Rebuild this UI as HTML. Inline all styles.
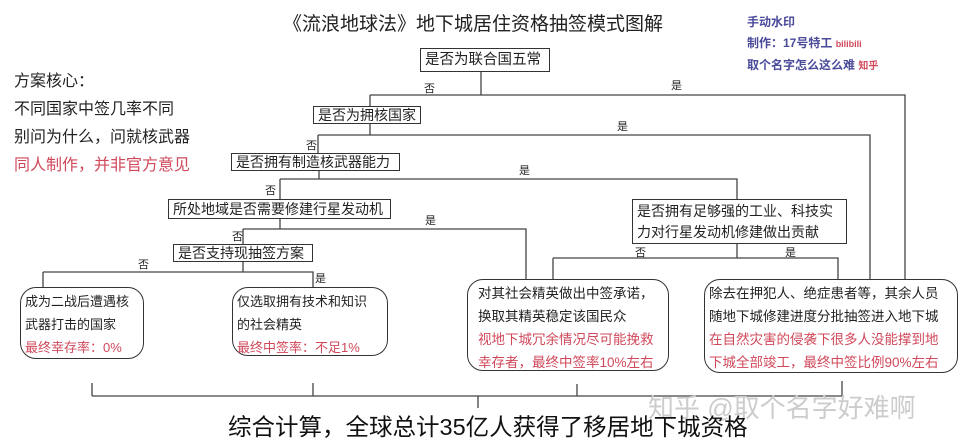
<!DOCTYPE html>
<html><head><meta charset="utf-8"><style>
body{margin:0;width:960px;height:447px;background:#fff;position:relative;overflow:hidden;font-family:"Liberation Sans","Noto Sans CJK SC",sans-serif;color:#222}
.a{position:absolute;white-space:nowrap}
.b{position:absolute;border:1.3px solid #333;background:#fff;font-size:14px;line-height:16px;padding:0 4px;box-sizing:border-box;white-space:nowrap;overflow:hidden}
.r{position:absolute;border:1.3px solid #333;border-radius:16px;background:#fff;box-sizing:border-box;padding:2px 4px;white-space:nowrap}
.red{color:#d0485a}
.l{font-size:11px}
svg{position:absolute;left:0;top:0}
</style></head><body>
<svg width="960" height="447"><g stroke="#444" stroke-width="1.3" fill="none">
<path d="M481 72V95M370 95H905V279M370 95V106"/>
<path d="M370 124V135M318 135H870V279M318 135V154"/>
<path d="M319 170V179M280 179H737V199M280 179V199"/>
<path d="M737 243V258M553 258H838V279M553 258V279"/>
<path d="M280 218V229M243 229H526V279M243 229V244"/>
<path d="M243 262V272M43 272H313V287M43 272V287"/>
<path d="M92 383V396M313 383V396M577 384V396M842 381V396M92 396H842M478 396V408"/>
</g></svg>
<div class="a" style="left:283px;top:9px;font-size:19px">《流浪地球法》地下城居住资格抽签模式图解</div>
<div class="a" style="left:747px;top:12px;font-size:12px;font-weight:bold;color:#4a4a9a;line-height:21px">手动水印<br>制作：17号特工 <span style="color:#d0485a;font-size:9px">bilibili</span><br>取个名字怎么这么难 <span style="color:#d0485a;font-size:10px">知乎</span></div>
<div class="a" style="left:14px;top:68px;font-size:16px;line-height:28px">方案核心：<br>不同国家中签几率不同<br>别问为什么，问就核武器<br><span class="red">同人制作，并非官方意见</span></div>
<div class="b" style="left:420px;top:48px;width:130px;height:24px;font-size:14.5px;line-height:22px">是否为联合国五常</div>
<div class="b" style="left:313px;top:106px;width:108px;height:18px">是否为拥核国家</div>
<div class="b" style="left:231px;top:153px;width:169px;height:18px">是否拥有制造核武器能力</div>
<div class="b" style="left:168px;top:199px;width:223px;height:20px;font-size:14px;line-height:18px">所处地域是否需要修建行星发动机</div>
<div class="b" style="left:173px;top:244px;width:140px;height:18px">是否支持现抽签方案</div>
<div class="b" style="left:632px;top:199px;width:215px;height:45px;font-size:14px;line-height:21px;padding-top:1px">是否拥有足够强的工业、科技实<br>力对行星发动机修建做出贡献</div>
<div class="a l" style="left:424px;top:80px">否</div><div class="a l" style="left:671px;top:77px">是</div>
<div class="a l" style="left:306px;top:137px">否</div><div class="a l" style="left:617px;top:118px">是</div>
<div class="a l" style="left:265px;top:182px">否</div><div class="a l" style="left:519px;top:162px">是</div>
<div class="a l" style="left:232px;top:228px">否</div><div class="a l" style="left:425px;top:212px">是</div>
<div class="a l" style="left:138px;top:256px">否</div><div class="a l" style="left:315px;top:270px">是</div>
<div class="a l" style="left:635px;top:244px">否</div><div class="a l" style="left:785px;top:244px">是</div>
<div class="r" style="left:20px;top:287px;width:124px;height:72px;font-size:13px;line-height:23px">成为二战后遭遇核<br>武器打击的国家<br><span class="red">最终幸存率：0%</span></div>
<div class="r" style="left:232px;top:287px;width:156px;height:69px;font-size:13px;line-height:23px">仅选取拥有技术和知识<br>的社会精英<br><span class="red">最终中签率：不足1%</span></div>
<div class="r" style="left:467px;top:279px;width:202px;height:92px;font-size:13.5px;line-height:23px;padding-left:10px">对其社会精英做出中签承诺，<br>换取其精英稳定该国民众<br><span class="red">视地下城冗余情况尽可能挽救<br>幸存者，最终中签率10%左右</span></div>
<div class="r" style="left:704px;top:279px;width:254px;height:94px;font-size:13.5px;line-height:23px">除去在押犯人、绝症患者等，其余人员<br>随地下城修建进度分批抽签进入地下城<br><span class="red">在自然灾害的侵袭下很多人没能撑到地<br>下城全部竣工，最终中签比例90%左右</span></div>
<div class="a" style="left:648px;top:388px;font-size:26px;color:#ccc">知乎 @取个名字好难啊</div>
<div class="a" style="left:228px;top:408px;font-size:23.5px;color:#111">综合计算，全球总计35亿人获得了移居地下城资格</div>
</body></html>
